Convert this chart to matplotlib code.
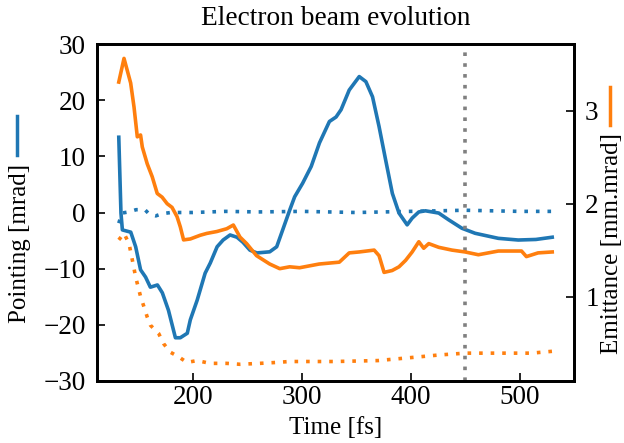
import matplotlib
matplotlib.use("Agg")
import matplotlib.pyplot as plt
from matplotlib.lines import Line2D

plt.rcParams['font.family'] = ['Liberation Serif', 'DejaVu Serif']

# pointing (left axis), solid
t_point = [132, 134, 135.3, 143, 147.5, 152, 156.6, 161, 167.5, 172, 177.6, 184, 188.5, 194.9,
           197.7, 204, 211.3, 216, 222.3, 227.8, 234.2, 240.5, 246, 252.4, 258.8, 270.6, 277,
           282.5, 288.9, 293.5, 300.8, 308.7, 316.3, 325.4, 331.5, 336.1, 343.6, 352.8, 358.9,
           365, 371, 377.1, 383.2, 389.3, 396.8, 401.4, 407.5, 413.6, 425.8, 434.9, 447, 459.2,
           480.5, 498.8, 515, 530]
pointing = [13.4, -0.1, -3.1, -3.5, -6.1, -10.2, -11.5, -13.3, -12.9, -14.3, -17.4, -22.3, -22.3,
            -21.5, -19.1, -15.6, -10.8, -9.0, -6.1, -4.9, -4.0, -4.4, -5.3, -6.7, -7.2, -7.0, -6.1,
            -3.1, 0.4, 2.8, 5.2, 8.2, 12.4, 16.2, 17.0, 18.3, 21.8, 24.2, 23.3, 20.6, 15.3, 9.3,
            3.4, -0.1, -2.2, -1.0, 0.1, 0.3, -0.1, -1.3, -2.8, -3.7, -4.6, -4.9, -4.8, -4.4]

# pointing (left axis), dotted
t_point2 = [132, 135, 141, 148, 156, 160, 166, 172, 180, 200, 230, 260, 300, 350, 400, 450, 500, 530]
pointing2 = [-1.9, -0.1, 0.1, 0.5, 0.5, -0.3, -0.6, -0.2, 0.0, 0.0, 0.2, 0.1, 0.2, 0.0, 0.2, 0.4, 0.2, 0.2]

# emittance (right axis), solid
t_emit = [132, 136.8, 142.9, 146, 149, 152, 153.6, 158.1, 162.7, 167.3, 171.8, 176.4, 180.9, 185.5,
          188.5, 191.5, 197.7, 206.8, 212.9, 222, 231.1, 237.2, 243.3, 249.4, 258.5, 270.6, 279.8,
          288.9, 298, 316, 334.5, 343.6, 352.8, 366.5, 371, 375.6, 383, 389.3, 395.4, 401.4, 407.5,
          412, 416.6, 425.8, 437.9, 450, 462.2, 480.5, 501.8, 506.3, 517, 530]
emit = [3.31, 3.565, 3.30, 3.04, 2.72, 2.74, 2.61, 2.43, 2.29, 2.11, 2.07, 2.0, 1.96, 1.86, 1.75,
        1.61, 1.62, 1.66, 1.68, 1.70, 1.73, 1.77, 1.64, 1.57, 1.44, 1.35, 1.30, 1.32, 1.31, 1.35,
        1.37, 1.47, 1.48, 1.50, 1.44, 1.26, 1.28, 1.32, 1.39, 1.48, 1.59, 1.52, 1.57, 1.53, 1.50,
        1.48, 1.45, 1.49, 1.49, 1.43, 1.47, 1.48]

# emittance (right axis), dotted
t_emit2 = [132, 136.8, 141.4, 144.5, 147.5, 152, 155.1, 158.1, 161.1, 168.7, 173.3, 179.4, 187,
           194.6, 203.8, 215.9, 231.1, 243.3, 261.5, 276.8, 288.9, 330, 370, 407.5, 425.8, 450,
           480.5, 510.8, 530]
emit2 = [1.61, 1.68, 1.57, 1.39, 1.21, 1.0, 0.89, 0.78, 0.69, 0.60, 0.49, 0.40, 0.35, 0.29, 0.31,
         0.28, 0.28, 0.27, 0.28, 0.29, 0.30, 0.30, 0.31, 0.35, 0.37, 0.39, 0.39, 0.39, 0.41]

t_mark = 450

blue = '#1f77b4'
orange = '#ff7f0e'
dots = (0, (1, 2.2))

fig = plt.figure(figsize=(6.24, 4.43), dpi=100)
ax = fig.add_axes([97/624, 62/443, 477/624, 337/443])
ax2 = ax.twinx()

ax.plot(t_point, pointing, color=blue, lw=2.6)
ax.plot(t_point2, pointing2, color=blue, lw=2.6, ls=dots)
ax2.plot(t_emit, emit, color=orange, lw=2.6)
ax2.plot(t_emit2, emit2, color=orange, lw=2.6, ls=dots)
ax.axvline(t_mark, color='gray', lw=2.6, ls=(0, (1, 2.0)))

ax.set_xlim(112, 550)
ax.set_ylim(-30, 30)
ax2.set_ylim(0.09, 3.72)
ax.set_yticks([-30, -20, -10, 0, 10, 20, 30])
ax2.set_yticks([1, 2, 3])
ax.set_xticks([200, 300, 400, 500])

for a in (ax, ax2):
    for s in a.spines.values():
        s.set_linewidth(2)
    a.tick_params(direction='in', length=6, width=1.2, labelsize=19.5)
ax.tick_params(axis='y', pad=8)
ax.tick_params(axis='x', pad=3)
ax2.tick_params(axis='y', pad=8)

ax.set_title('Electron beam evolution', fontsize=19.7, pad=14)
ax.set_xlabel('Time [fs]', fontsize=18, labelpad=5)

fig.text(20/624, 1 - 243/443, 'Pointing [mrad]', rotation=90, ha='center', va='center', fontsize=18)
fig.text(612/624, 1 - 243/443, 'Emittance [mm.mrad]', rotation=90, ha='center', va='center', fontsize=18)
fig.add_artist(Line2D([17/624, 17/624], [1 - 116/443, 1 - 155/443], color=blue, lw=2.5))
fig.add_artist(Line2D([610/624, 610/624], [1 - 87/443, 1 - 125/443], color=orange, lw=2.5))

fig.savefig('out.png', dpi=100)
